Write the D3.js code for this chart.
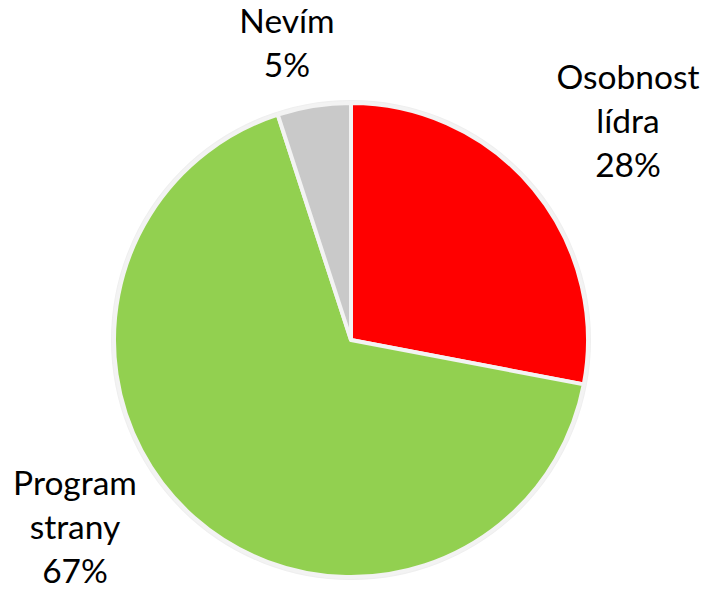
<!DOCTYPE html>
<html>
<head>
<meta charset="utf-8">
<script src="https://cdn.jsdelivr.net/npm/d3@7"></script>
<style>
  body { margin: 0; background: #fff; }
  text { font-family: Lato, "Open Sans", sans-serif; fill: #000; }
</style>
</head>
<body>
<script>
// data
const categories = ["Osobnost lídra", "Program strany", "Nevím"];
const values = [28, 67, 5];
const colors = ["#ff0000", "#92d050", "#c9c9c9"];
const labelLines = [["Osobnost", "lídra", "28%"], ["Program", "strany", "67%"], ["Nevím", "5%"]];

const width = 705, height = 590;
const cx = 351, cy = 340, radius = 237;

const svg = d3.select("body").append("svg")
    .attr("width", width)
    .attr("height", height);

const g = svg.append("g")
    .attr("transform", "translate(" + cx + "," + cy + ")");

const pie = d3.pie().sort(null).value(d => d)(values);
const arc = d3.arc().innerRadius(0).outerRadius(radius);

// outer light ring
g.append("circle")
    .attr("r", radius + 1)
    .style("fill", "none")
    .style("stroke", "#efefef")
    .style("stroke-width", "4px");

g.selectAll(".slice")
    .data(pie)
    .enter().append("path")
    .attr("class", "slice")
    .attr("d", arc)
    .style("fill", (d, i) => colors[i])
    .style("stroke", "#f3f3f3")
    .style("stroke-width", "4px")
    .style("stroke-linejoin", "round");

// label anchors (center x, first baseline)
const labelPos = [
    { x: 628, y: 89 },
    { x: 75, y: 495 },
    { x: 287, y: 33 }
];
const lineGap = 44;

const labels = svg.selectAll(".label")
    .data(labelLines)
    .enter().append("text")
    .attr("class", "label")
    .attr("text-anchor", "middle")
    .style("font-size", "33.5px");

labels.each(function(lines, i) {
    d3.select(this).selectAll("tspan")
        .data(lines)
        .enter().append("tspan")
        .attr("x", labelPos[i].x)
        .attr("y", (d, j) => labelPos[i].y + j * lineGap)
        .text(d => d);
});
</script>
</body>
</html>
